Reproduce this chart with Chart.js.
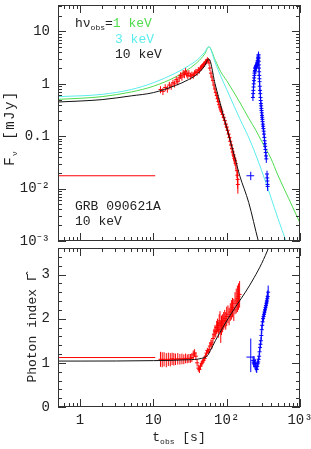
<!DOCTYPE html>
<html>
<head>
<meta charset="utf-8">
<script src="https://cdn.jsdelivr.net/npm/chart.js@4.4.1/dist/chart.umd.min.js"></script>
<style>
  body { margin: 0; background: #fff; width: 311px; height: 449px; overflow: hidden; position: relative; font-family: "Liberation Mono", monospace; color: #222; }
  canvas { position: absolute; left: 0; }
  #top { top: 0; }
  #bot { top: 243px; }
  .t { position: absolute; white-space: nowrap; font-size: 13px; line-height: 1; }
  .c { transform: translate(-50%, -50%); }
  .rot { transform: translate(-50%, -50%) rotate(-90deg); }
  sub { font-size: 8px; vertical-align: -3px; }
</style>
</head>
<body>
<canvas id="top" width="311" height="249"></canvas>
<canvas id="bot" width="311" height="206"></canvas>

<div class="t" style="left:75px;top:17px">hν<sub>obs</sub>=<span style="color:#4fdc4f">1 keV</span></div>
<div class="t" style="left:115px;top:33px;color:#5cecec">3 keV</div>
<div class="t" style="left:115px;top:48px">10 keV</div>
<div class="t" style="left:75px;top:200px">GRB 090621A</div>
<div class="t" style="left:75px;top:215px">10 keV</div>
<div class="t rot" style="left:11px;top:128px;font-size:14px;letter-spacing:1.5px">F<sub>ν</sub> [mJy]</div>
<div class="t rot" style="left:32px;top:328px">Photon index Γ̂</div>
<div class="t c" style="left:179px;top:438px">t<sub>obs</sub> [s]</div>

<script>
// axes
const xMajor = [1, 10, 100, 1000]
const xLabels = ['1', '10', '10²', '10³']
const fMajor = [0.001, 0.01, 0.1, 1, 10]
const fLabels = ['10⁻³', '10⁻²', '0.1', '1', '10']
const gMajor = [0, 1, 2, 3]
const gLabels = ['0', '1', '2', '3']

// model curves, flux panel
const blackT = [0.5, 1, 2, 5, 10, 20, 30, 40, 50, 57, 70, 85, 100, 130, 150, 200, 270, 300]
const blackF = [0.45, 0.47, 0.5, 0.59, 0.68, 0.93, 1.2, 1.55, 2.2, 3.0, 0.95, 0.34, 0.146, 0.038, 0.018, 0.0054, 0.001, 0.0006]
const cyanT = [0.5, 1, 2, 5, 10, 20, 30, 40, 50, 57, 70, 83, 100, 150, 213, 300, 400, 500, 643, 700]
const cyanF = [0.57, 0.59, 0.63, 0.78, 1.05, 1.6, 2.2, 2.9, 4.0, 5.1, 2.5, 1.4, 0.78, 0.22, 0.077, 0.022, 0.0069, 0.0027, 0.001, 0.0007]
const greenT = [0.5, 1, 2, 5, 10, 20, 30, 40, 50, 57, 70, 83, 100, 150, 200, 250, 300, 400, 500, 700, 1000]
const greenF = [0.506, 0.53, 0.57, 0.7, 0.9, 1.35, 1.9, 2.6, 3.7, 5.1, 2.8, 1.7, 1.15, 0.45, 0.22, 0.13, 0.08, 0.038, 0.018, 0.0065, 0.0022]

// model curve, photon index panel
const modelGT = [0.5, 1, 10, 30, 45, 55, 60, 70, 80, 100, 140, 180, 237, 300, 380, 420]
const modelG = [1.04, 1.04, 1.05, 1.07, 1.1, 1.17, 1.28, 1.5, 1.67, 1.95, 2.33, 2.6, 2.93, 3.25, 3.64, 3.85]

// red data (flux)
const redT = [12.5, 13.5, 14.5, 15.5, 16.5, 17.5, 18.5, 19.5, 20.5, 21.5, 22.5, 23.5, 24.5, 25.5, 26.5, 27.5, 28.5, 29.5, 30.5, 32, 33.5, 35, 36.5, 38, 39.5, 41, 42.5, 44, 45.5, 47, 48.5, 50, 51.5, 53, 54.5, 56, 57.5, 59, 61, 63, 65, 67, 69, 71, 73, 75, 77, 79, 81, 83, 85, 88, 91, 94, 97, 100, 103, 106, 109, 112, 115, 118, 121, 124, 127, 130, 133, 138, 140, 141, 142]
const redF = [0.78, 0.72, 0.85, 0.8, 0.95, 0.9, 1.05, 1.0, 1.2, 1.1, 1.3, 1.45, 1.35, 1.6, 1.5, 1.75, 1.55, 1.45, 1.6, 1.4, 1.5, 1.45, 1.6, 1.7, 1.65, 1.85, 1.8, 2.0, 2.1, 2.2, 2.35, 2.4, 2.6, 2.7, 2.9, 2.8, 2.5, 2.0, 1.6, 1.35, 1.15, 0.95, 0.8, 0.68, 0.6, 0.52, 0.46, 0.4, 0.36, 0.33, 0.3, 0.26, 0.23, 0.2, 0.17, 0.15, 0.13, 0.11, 0.095, 0.08, 0.068, 0.058, 0.05, 0.044, 0.038, 0.034, 0.03, 0.022, 0.018, 0.015, 0.012]
const redFErr = [0.12, 0.11, 0.13, 0.12, 0.14, 0.13, 0.15, 0.15, 0.18, 0.16, 0.19, 0.21, 0.2, 0.23, 0.22, 0.25, 0.22, 0.21, 0.23, 0.2, 0.21, 0.2, 0.22, 0.23, 0.22, 0.24, 0.23, 0.25, 0.26, 0.27, 0.28, 0.28, 0.3, 0.3, 0.32, 0.3, 0.28, 0.24, 0.2, 0.17, 0.15, 0.13, 0.11, 0.1, 0.09, 0.08, 0.07, 0.06, 0.055, 0.05, 0.045, 0.04, 0.035, 0.03, 0.027, 0.024, 0.021, 0.018, 0.016, 0.014, 0.012, 0.011, 0.01, 0.009, 0.008, 0.007, 0.007, 0.006, 0.005, 0.005, 0.004]

// red data (photon index)
const redGT = [12.5, 13.2, 14, 15, 16, 17, 18, 19, 20, 21.5, 23, 24.5, 26, 27.5, 29, 30.5, 32, 33.5, 35, 36.5, 38, 39.5, 41, 42.5, 44, 45.5, 47, 48.5, 50, 51.5, 53, 54.5, 56, 57.5, 59, 61, 63, 65, 67, 69, 71, 73, 75, 77, 79, 81, 83, 85, 88, 91, 94, 97, 100, 104, 108, 112, 116, 120, 125, 130, 135, 140, 145, 150]
const redG = [1.08, 1.07, 1.08, 1.06, 1.08, 1.07, 1.09, 1.08, 1.08, 1.09, 1.08, 1.09, 1.08, 1.1, 1.09, 1.1, 1.1, 1.12, 1.18, 1.22, 1.15, 1.0, 0.88, 0.85, 0.93, 0.98, 1.02, 1.06, 1.1, 1.15, 1.22, 1.28, 1.25, 1.3, 1.38, 1.45, 1.42, 1.55, 1.65, 1.72, 1.7, 1.8, 1.85, 1.75, 1.9, 1.95, 1.7, 1.85, 1.9, 1.95, 2.0, 1.95, 2.05, 2.1, 2.05, 2.15, 2.2, 2.25, 2.2, 2.35, 2.4, 2.45, 2.5, 2.55]
const redGErr = [0.17, 0.17, 0.16, 0.16, 0.15, 0.15, 0.14, 0.14, 0.13, 0.13, 0.12, 0.12, 0.11, 0.11, 0.1, 0.1, 0.1, 0.1, 0.1, 0.09, 0.09, 0.08, 0.08, 0.08, 0.07, 0.07, 0.06, 0.06, 0.06, 0.06, 0.06, 0.06, 0.06, 0.07, 0.08, 0.08, 0.1, 0.1, 0.12, 0.13, 0.13, 0.15, 0.15, 0.18, 0.2, 0.22, 0.25, 0.22, 0.2, 0.2, 0.2, 0.2, 0.22, 0.2, 0.2, 0.2, 0.22, 0.22, 0.25, 0.25, 0.28, 0.3, 0.3, 0.3]

// blue data (flux)
const blueT = [228, 229.5, 231, 232.5, 234, 235.5, 237, 238.5, 240, 241.5, 243, 245, 247, 249, 251, 253, 255, 257, 259, 261, 263, 265, 267, 269, 270.5, 272, 273, 274, 275, 276, 277, 278, 279.5, 281, 283, 285, 287, 289, 291, 293, 295, 297, 299, 301, 303, 305, 307, 309, 311, 314, 317, 320, 323, 326, 329, 332, 335, 338, 341, 344, 347, 355, 357, 359, 361, 362]
const blueF = [0.55, 0.65, 0.75, 0.87, 1.0, 1.15, 1.3, 1.45, 1.6, 1.7, 1.8, 1.95, 2.05, 2.1, 2.2, 2.15, 2.25, 2.3, 2.35, 2.5, 2.6, 2.8, 3.0, 3.2, 3.4, 3.6, 3.1, 2.7, 2.3, 2.0, 1.7, 1.45, 1.25, 1.1, 0.9, 0.75, 0.65, 0.55, 0.48, 0.42, 0.38, 0.34, 0.31, 0.28, 0.25, 0.23, 0.21, 0.19, 0.17, 0.155, 0.14, 0.125, 0.11, 0.095, 0.082, 0.072, 0.064, 0.056, 0.049, 0.042, 0.037, 0.019, 0.016, 0.014, 0.012, 0.011]
const blueFErr = [0.08, 0.1, 0.11, 0.13, 0.15, 0.17, 0.2, 0.22, 0.24, 0.26, 0.27, 0.29, 0.31, 0.32, 0.33, 0.32, 0.34, 0.35, 0.35, 0.38, 0.39, 0.42, 0.45, 0.48, 0.51, 0.54, 0.47, 0.4, 0.35, 0.3, 0.26, 0.22, 0.19, 0.17, 0.14, 0.11, 0.1, 0.08, 0.07, 0.06, 0.06, 0.05, 0.05, 0.04, 0.04, 0.035, 0.03, 0.03, 0.026, 0.023, 0.021, 0.019, 0.017, 0.014, 0.012, 0.011, 0.01, 0.008, 0.007, 0.006, 0.006, 0.003, 0.0025, 0.002, 0.002, 0.002]

// blue data (photon index)
const blueGT = [229, 233, 237, 241, 245, 249, 253, 257, 261, 265, 269, 273, 277, 281, 285, 289, 293, 297, 301, 305, 309, 313, 318, 323, 328, 333, 338, 343, 348, 353, 358, 363, 368]
const blueG = [1.05, 1.0, 1.05, 0.98, 1.0, 0.92, 0.88, 0.85, 0.92, 0.98, 1.02, 1.08, 1.15, 1.25, 1.35, 1.42, 1.5, 1.62, 1.75, 1.85, 1.93, 2.0, 2.05, 2.1, 2.15, 2.2, 2.25, 2.3, 2.35, 2.4, 2.45, 2.5, 2.6]
const blueGErr = [0.1, 0.1, 0.1, 0.09, 0.09, 0.09, 0.09, 0.08, 0.08, 0.08, 0.08, 0.08, 0.08, 0.08, 0.09, 0.09, 0.09, 0.1, 0.1, 0.1, 0.1, 0.1, 0.1, 0.11, 0.11, 0.11, 0.12, 0.12, 0.12, 0.13, 0.13, 0.14, 0.15]

// single wide bins: red early bin and blue late bin
const redBinT = [5, 0.4, 10.6]     // t, tLo, tHi
const redBinF = 0.0176
const redBinG = 1.12
const blueBinT = [213, 186, 237]
const blueBinF = [0.0176, 0.0145, 0.021]
const blueBinG = [1.13, 0.79, 1.55]

const RED = '#ff0000', BLUE = '#0000ff', GREEN = '#4fdc4f', CYAN = '#5cecec', BLACK = '#111'
const FONT = { family: 'Liberation Mono', size: 14 }

const pts = (xs, ys, errs) => xs.map((x, i) => ({ x: x, y: ys[i], yLo: errs ? ys[i] - errs[i] : null, yHi: errs ? ys[i] + errs[i] : null }))

const logMinors = (min, max) => {
  const out = []
  for (let e = Math.floor(Math.log10(min)); e < Math.log10(max); e++) {
    for (let m = 2; m < 10; m++) {
      const v = m * Math.pow(10, e)
      if (v >= min && v <= max) out.push(v)
    }
  }
  return out
}

const errorBars = {
  id: 'errorBars',
  afterDatasetDraw(chart, args) {
    const ds = chart.data.datasets[args.index]
    if (!ds.errorBars) return
    const { ctx, chartArea: a, scales: { x, y } } = chart
    ctx.save()
    ctx.beginPath()
    ctx.rect(a.left, a.top, a.right - a.left, a.bottom - a.top)
    ctx.clip()
    ctx.strokeStyle = ds.borderColor
    ctx.lineWidth = 1
    ctx.beginPath()
    ds.data.forEach(p => {
      const px = x.getPixelForValue(p.x), py = y.getPixelForValue(p.y)
      if (p.yLo != null) { ctx.moveTo(px, y.getPixelForValue(p.yLo)); ctx.lineTo(px, y.getPixelForValue(p.yHi)) }
      if (p.xLo != null) { ctx.moveTo(x.getPixelForValue(p.xLo), py); ctx.lineTo(x.getPixelForValue(p.xHi), py) }
    })
    ctx.stroke()
    ctx.restore()
  }
}

// frame with inward ticks on all four sides
const frame = {
  id: 'frame',
  afterDraw(chart, args, o) {
    const { ctx, chartArea: a, scales: { x, y } } = chart
    ctx.save()
    ctx.strokeStyle = '#333'
    ctx.lineWidth = 1
    ctx.beginPath()
    const xt = (v, len) => {
      const p = Math.round(x.getPixelForValue(v)) + 0.5
      ctx.moveTo(p, a.bottom); ctx.lineTo(p, a.bottom - len)
      ctx.moveTo(p, a.top); ctx.lineTo(p, a.top + len)
    }
    const yt = (v, len) => {
      const p = Math.round(y.getPixelForValue(v)) + 0.5
      ctx.moveTo(a.left, p); ctx.lineTo(a.left + len, p)
      ctx.moveTo(a.right, p); ctx.lineTo(a.right - len, p)
    }
    o.xMajor.forEach(v => xt(v, 8))
    o.xMinor.forEach(v => xt(v, 4))
    o.yMajor.forEach(v => yt(v, 8))
    o.yMinor.forEach(v => yt(v, 4))
    ctx.stroke()
    ctx.strokeRect(a.left + 0.5, a.top + 0.5, a.right - a.left - 1, a.bottom - a.top - 1)
    ctx.restore()
  }
}

const noPad = s => { s.paddingTop = 0; s.paddingBottom = 0; s.paddingLeft = 0; s.paddingRight = 0 }

const model = (data, color) => ({ data: data, showLine: true, borderColor: color, borderWidth: 1, pointRadius: 0, cubicInterpolationMode: 'monotone' })
const points = (data, color) => ({ data: data, errorBars: true, showLine: false, borderColor: color, backgroundColor: color, borderWidth: 1, pointStyle: 'line', pointRadius: 2 })
const bin = (data, color) => ({ data: data, errorBars: true, showLine: false, borderColor: color, pointRadius: 0 })

const xScale = (show) => ({
  type: 'logarithmic', min: 0.5, max: 1000, display: show,
  grid: { display: false, drawTicks: false }, border: { display: false },
  afterBuildTicks: s => { s.ticks = xMajor.map(v => ({ value: v })) },
  afterFit: s => { s.height = show ? 42 : 0; noPad(s) },
  ticks: { autoSkip: false, maxRotation: 0, padding: 5, color: '#222', font: FONT, callback: (v, i) => xLabels[i] }
})

const yScale = (type, min, max, major, labels) => ({
  type: type, min: min, max: max,
  grid: { display: false, drawTicks: false }, border: { display: false },
  afterBuildTicks: s => { s.ticks = major.map(v => ({ value: v })) },
  afterFit: s => { s.width = 58; noPad(s) },
  ticks: { autoSkip: false, padding: 8, color: '#222', font: FONT, callback: (v, i) => labels[i] }
})

new Chart(document.getElementById('top'), {
  type: 'scatter',
  data: {
    datasets: [
      model(pts(blackT, blackF), BLACK),
      points(pts(redT, redF, redFErr), RED),
      bin([{ x: redBinT[0], y: redBinF, xLo: redBinT[1], xHi: redBinT[2] }], RED),
      points(pts(blueT, blueF, blueFErr), BLUE),
      bin([{ x: blueBinT[0], y: blueBinF[0], xLo: blueBinT[1], xHi: blueBinT[2], yLo: blueBinF[1], yHi: blueBinF[2] }], BLUE),
      model(pts(cyanT, cyanF), CYAN),
      model(pts(greenT, greenF), GREEN)
    ]
  },
  options: {
    responsive: false, animation: false, devicePixelRatio: 1,
    layout: { padding: { top: 1, right: 11, bottom: 8, left: 0 } },
    plugins: {
      legend: { display: false }, tooltip: { enabled: false },
      frame: { xMajor: xMajor, xMinor: logMinors(0.5, 1000).filter(v => !xMajor.includes(v)), yMajor: fMajor, yMinor: logMinors(0.001, 32) }
    },
    scales: {
      x: xScale(false),
      y: yScale('logarithmic', 0.001, 32, fMajor, fLabels)
    }
  },
  plugins: [errorBars, frame]
})

const gMinor = []
for (let k = 1; k < 18; k++) if (k % 5) gMinor.push(k / 5)

new Chart(document.getElementById('bot'), {
  type: 'scatter',
  data: {
    datasets: [
      model(pts(modelGT, modelG), BLACK),
      points(pts(redGT, redG, redGErr), RED),
      bin([{ x: redBinT[0], y: redBinG, xLo: redBinT[1], xHi: redBinT[2] }], RED),
      points(pts(blueGT, blueG, blueGErr), BLUE),
      bin([{ x: blueBinT[0], y: blueBinG[0], xLo: blueBinT[1], xHi: blueBinT[2], yLo: blueBinG[1], yHi: blueBinG[2] }], BLUE)
    ]
  },
  options: {
    responsive: false, animation: false, devicePixelRatio: 1,
    layout: { padding: { top: 4, right: 11, bottom: 0, left: 0 } },
    plugins: {
      legend: { display: false }, tooltip: { enabled: false },
      frame: { xMajor: xMajor, xMinor: logMinors(0.5, 1000).filter(v => !xMajor.includes(v)), yMajor: gMajor, yMinor: gMinor }
    },
    scales: {
      x: xScale(true),
      y: yScale('linear', 0, 3.6, gMajor, gLabels)
    }
  },
  plugins: [errorBars, frame]
})
</script>
</body>
</html>
